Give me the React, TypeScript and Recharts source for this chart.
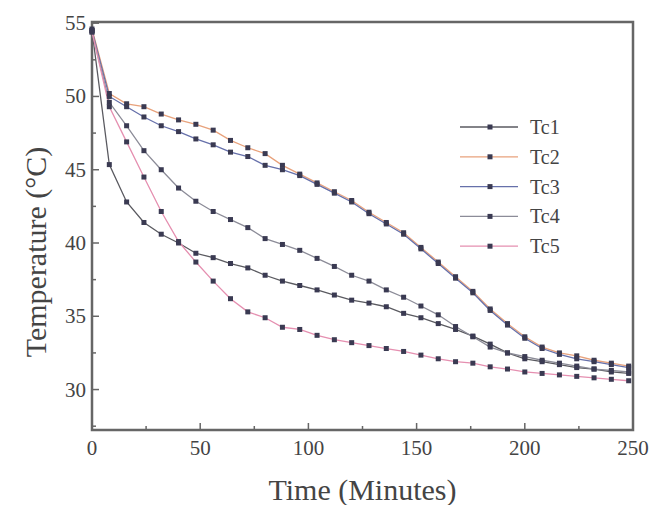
import React from "react";
import { LineChart, Line, XAxis, YAxis, ReferenceArea, Legend } from "recharts";

// sampling times (min)
const minutes = [
  0, 8, 16, 24, 32, 40, 48, 56, 64, 72, 80, 88, 96, 104, 112, 120, 128, 136,
  144, 152, 160, 168, 176, 184, 192, 200, 208, 216, 224, 232, 240, 248,
];

const tc1 = [
  54.5, 45.35, 42.8, 41.4, 40.6, 40.0, 39.3, 39.0, 38.6, 38.3, 37.8, 37.4,
  37.1, 36.8, 36.45, 36.1, 35.9, 35.65, 35.2, 34.9, 34.5, 34.1, 33.65, 33.1,
  32.5, 32.1, 31.9, 31.7, 31.5, 31.4, 31.2, 31.1,
];
const tc2 = [
  54.6, 50.2, 49.5, 49.3, 48.8, 48.4, 48.1, 47.7, 47.0, 46.5, 46.1, 45.3,
  44.7, 44.1, 43.5, 42.9, 42.1, 41.4, 40.7, 39.7, 38.7, 37.7, 36.7, 35.5,
  34.5, 33.6, 32.9, 32.5, 32.3, 32.0, 31.8, 31.6,
];
const tc3 = [
  54.5, 50.0, 49.3, 48.6, 48.0, 47.6, 47.1, 46.7, 46.2, 45.9, 45.3, 45.0,
  44.6, 44.0, 43.4, 42.8, 42.0, 41.3, 40.6, 39.6, 38.6, 37.6, 36.6, 35.4,
  34.4, 33.5, 32.8, 32.4, 32.1, 31.9, 31.7, 31.5,
];
const tc4 = [
  54.4, 49.6, 48.0, 46.3, 45.0, 43.75, 42.85, 42.15, 41.6, 41.05, 40.3, 39.9,
  39.5, 38.95, 38.4, 37.8, 37.4, 36.8, 36.3, 35.7, 35.1, 34.3, 33.6, 32.9,
  32.5, 32.25, 32.0, 31.8, 31.6, 31.4, 31.3, 31.2,
];
const tc5 = [
  54.4, 49.3, 46.9, 44.5, 42.15, 40.1, 38.7, 37.4, 36.2, 35.3, 34.9, 34.25,
  34.1, 33.7, 33.4, 33.2, 33.0, 32.8, 32.6, 32.35, 32.1, 31.9, 31.8, 31.55,
  31.4, 31.2, 31.1, 31.0, 30.9, 30.8, 30.7, 30.6,
];

const seriesNames = ["Tc1", "Tc2", "Tc3", "Tc4", "Tc5"];
const seriesValues = [tc1, tc2, tc3, tc4, tc5];
const seriesColors = ["#5a5a60", "#e8a27c", "#6670aa", "#8c8c98", "#e58fb0"];

const xTicks = [0, 25, 50, 75, 100, 125, 150, 175, 200, 225, 250];
const yTicks = [27.5, 30, 32.5, 35, 37.5, 40, 42.5, 45, 47.5, 50, 52.5, 55];

const data = minutes.map((t, i) => {
  const row: any = { t };
  seriesNames.forEach((n, k) => (row[n] = seriesValues[k][i]));
  return row;
});

const FONT = "'Liberation Serif', 'DejaVu Serif', serif";
const AXIS = "#666";
const MARK = "#3a3a52";

const YTick = (props: any) => {
  const { x, y, payload } = props;
  const major = payload.value % 5 === 0;
  return (
    <g>
      <line x1={x + 6} x2={x + 6 + (major ? 7 : 4)} y1={y} y2={y} stroke={AXIS} strokeWidth={1.5} />
      {major && (
        <text x={x} y={y} dy={7} textAnchor="end" fontSize={21} fill="#444" fontFamily={FONT}>
          {payload.value}
        </text>
      )}
    </g>
  );
};

const XTick = (props: any) => {
  const { x, y, payload } = props;
  const major = payload.value % 50 === 0;
  return (
    <g>
      <line x1={x} x2={x} y1={y - 6} y2={y - 6 - (major ? 7 : 4)} stroke={AXIS} strokeWidth={1.5} />
      {major && (
        <text x={x} y={y + 19} textAnchor="middle" fontSize={21} fill="#444" fontFamily={FONT}>
          {payload.value}
        </text>
      )}
    </g>
  );
};

const YTitle = (props: any) => {
  const vb = props.viewBox;
  const cx = 35;
  const cy = vb.y + vb.height / 2 + 26;
  return (
    <text
      x={cx}
      y={cy}
      transform={`rotate(-90 ${cx} ${cy})`}
      textAnchor="middle"
      dominantBaseline="central"
      fontSize={30}
      fill="#444"
      fontFamily={FONT}
    >
      Temperature (°C)
    </text>
  );
};

const squareDot = (props: any) => {
  const { cx, cy, index } = props;
  if (cx == null || cy == null) return <g key={index} />;
  return <rect key={index} x={cx - 2.5} y={cy - 2.5} width={5} height={5} fill={MARK} />;
};

const LegendBox = () => (
  <svg width={130} height={150}>
    {seriesNames.map((n, i) => (
      <g key={n} transform={`translate(0, ${i * 29.8})`}>
        <line x1={5} x2={63} y1={12} y2={12} stroke={seriesColors[i]} strokeWidth={1.3} />
        <rect x={32.5} y={9.5} width={5} height={5} fill={MARK} />
        <text x={75} y={19} fontSize={20} fill="#444" fontFamily={FONT}>
          {n}
        </text>
      </g>
    ))}
  </svg>
);

export default function App() {
  return (
    <div style={{ position: "absolute", left: 0, top: 0, background: "#fff" }}>
      <LineChart
        width={649}
        height={505}
        data={data}
        margin={{ top: 22, right: 16, bottom: 0, left: 0 }}
      >
        <XAxis
          dataKey="t"
          type="number"
          domain={[0, 250]}
          ticks={xTicks}
          interval={0}
          height={75}
          tickSize={0}
          tickMargin={6}
          tick={<XTick />}
          axisLine={false}
          label={{
            value: "Time (Minutes)",
            position: "insideBottom",
            offset: 5,
            style: { fontSize: 30, fill: "#444", fontFamily: FONT },
          }}
        />
        <YAxis
          type="number"
          domain={[27.24, 55.08]}
          allowDataOverflow
          ticks={yTicks}
          interval={0}
          width={92}
          tickSize={0}
          tickMargin={6}
          tick={<YTick />}
          axisLine={false}
          label={<YTitle />}
        />
        <ReferenceArea
          x1={0}
          x2={250}
          y1={27.24}
          y2={55.08}
          fill="none"
          stroke={AXIS}
          strokeWidth={2.5}
          ifOverflow="visible"
        />
        <Legend
          layout="horizontal"
          verticalAlign="middle"
          align="center"
          content={<LegendBox />}
          wrapperStyle={{ position: "absolute", left: 455, top: 115, width: 130 }}
        />
        {seriesNames.map((n, i) => (
          <Line
            key={n}
            dataKey={n}
            type="linear"
            stroke={seriesColors[i]}
            strokeWidth={1.3}
            dot={squareDot}
            activeDot={false}
            isAnimationActive={false}
          />
        ))}
      </LineChart>
    </div>
  );
}
